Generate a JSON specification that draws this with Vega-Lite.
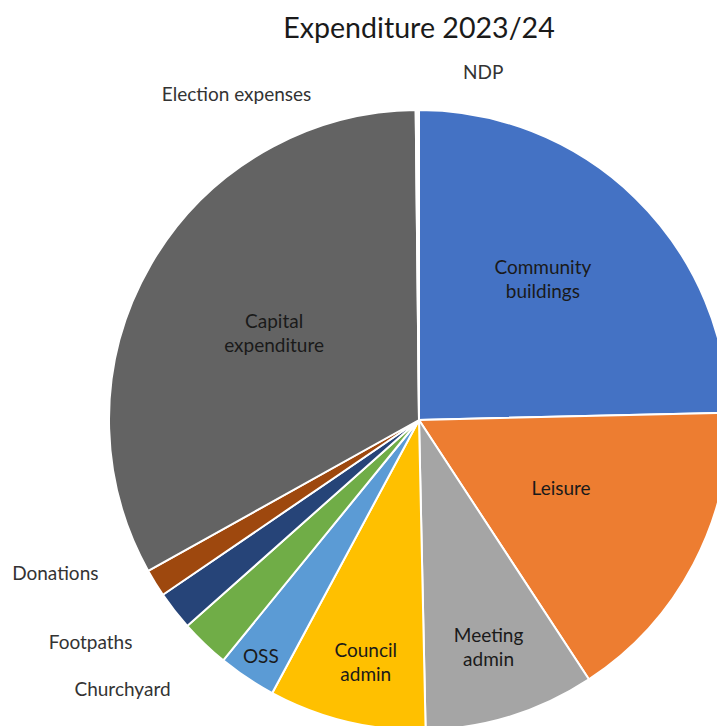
{
  "$schema": "https://vega.github.io/schema/vega-lite/v6.json",
  "autosize": "none",
  "width": 596,
  "height": 612,
  "padding": {"left": 121, "top": 114, "right": 0, "bottom": 0},
  "background": "white",
  "title": {"text": "Expenditure 2023/24", "font": "Lato", "fontSize": 28.6, "fontWeight": "normal", "color": "#1a1a1a", "anchor": "middle", "frame": "group", "offset": 20},
  "data": {"values": [
    {"category": "Community buildings", "label": "Community\nbuildings", "value": 24.62, "order": 1},
    {"category": "Leisure", "label": "Leisure", "value": 16.15, "order": 2},
    {"category": "Meeting admin", "label": "Meeting\nadmin", "value": 8.89, "order": 3},
    {"category": "Council admin", "label": "Council\nadmin", "value": 8.19, "order": 4},
    {"category": "OSS", "label": "OSS", "value": 3.03, "order": 5},
    {"category": "Churchyard", "label": "Churchyard", "value": 2.56, "order": 6},
    {"category": "Footpaths", "label": "Footpaths", "value": 2.03, "order": 7},
    {"category": "Donations", "label": "Donations", "value": 1.44, "order": 8},
    {"category": "Capital expenditure", "label": "Capital\nexpenditure", "value": 32.92, "order": 9},
    {"category": "Election expenses", "label": "Election expenses", "value": 0.09, "order": 10},
    {"category": "NDP", "label": "NDP", "value": 0.08, "order": 11}
  ]},
  "encoding": {
    "theta": {"field": "value", "type": "quantitative", "stack": true},
    "order": {"field": "order", "type": "quantitative"}
  },
  "layer": [
    {
      "mark": {"type": "arc", "outerRadius": 310, "stroke": "white", "strokeWidth": 2},
      "encoding": {
        "color": {"field": "category", "type": "nominal", "legend": null,
          "scale": {
            "domain": ["Community buildings", "Leisure", "Meeting admin", "Council admin", "OSS", "Churchyard", "Footpaths", "Donations", "Capital expenditure", "Election expenses", "NDP"],
            "range": ["#4472C4", "#ED7D31", "#A5A5A5", "#FFC000", "#5B9BD5", "#70AD47", "#264478", "#9E480E", "#636363", "#997300", "#255E91"]
          }}
      }
    },
    {
      "mark": {"type": "text", "radius": 156, "dx": 4, "dy": -4, "font": "Lato", "fontSize": 19, "lineHeight": 24, "lineBreak": "\n", "color": "#1a1a1a", "align": "center", "baseline": "middle"},
      "encoding": {
        "detail": {"field": "category"},
        "text": {"condition": {"test": "datum.category === 'Leisure'", "field": "label"}, "value": ""}
      }
    },
    {
      "mark": {"type": "text", "radius": 156, "dx": -10, "dy": -20, "font": "Lato", "fontSize": 19, "lineHeight": 24, "lineBreak": "\n", "color": "#1a1a1a", "align": "center", "baseline": "middle"},
      "encoding": {
        "detail": {"field": "category"},
        "text": {"condition": {"test": "datum.category === 'Capital expenditure'", "field": "label"}, "value": ""}
      }
    },
    {
      "mark": {"type": "text", "radius": 183, "dx": -4, "dy": -21, "font": "Lato", "fontSize": 19, "lineHeight": 24, "lineBreak": "\n", "color": "#1a1a1a", "align": "center", "baseline": "middle"},
      "encoding": {
        "detail": {"field": "category"},
        "text": {"condition": {"test": "datum.category === 'Community buildings'", "field": "label"}, "value": ""}
      }
    },
    {
      "mark": {"type": "text", "radius": 245, "dx": -3, "dy": -18, "font": "Lato", "fontSize": 19, "lineHeight": 24, "lineBreak": "\n", "color": "#1a1a1a", "align": "center", "baseline": "middle"},
      "encoding": {
        "detail": {"field": "category"},
        "text": {"condition": {"test": "datum.category === 'Meeting admin'", "field": "label"}, "value": ""}
      }
    },
    {
      "mark": {"type": "text", "radius": 245, "dx": 4, "dy": -7, "font": "Lato", "fontSize": 19, "lineHeight": 24, "lineBreak": "\n", "color": "#1a1a1a", "align": "center", "baseline": "middle"},
      "encoding": {
        "detail": {"field": "category"},
        "text": {"condition": {"test": "datum.category === 'Council admin'", "field": "label"}, "value": ""}
      }
    },
    {
      "mark": {"type": "text", "radius": 285, "font": "Lato", "fontSize": 19, "lineHeight": 24, "lineBreak": "\n", "color": "#1a1a1a", "align": "center", "baseline": "middle"},
      "encoding": {
        "detail": {"field": "category"},
        "text": {"condition": {"test": "datum.category === 'OSS'", "field": "label"}, "value": ""}
      }
    },
    {
      "mark": {"type": "text", "radius": 310, "dx": -100, "dy": -9, "font": "Lato", "fontSize": 19, "color": "#333333", "align": "center", "baseline": "middle"},
      "encoding": {
        "detail": {"field": "category"},
        "text": {"condition": {"test": "datum.category === 'Donations'", "field": "label"}, "value": ""}
      }
    },
    {
      "mark": {"type": "text", "radius": 310, "dx": -84, "dy": 32, "font": "Lato", "fontSize": 19, "color": "#333333", "align": "center", "baseline": "middle"},
      "encoding": {
        "detail": {"field": "category"},
        "text": {"condition": {"test": "datum.category === 'Footpaths'", "field": "label"}, "value": ""}
      }
    },
    {
      "mark": {"type": "text", "radius": 310, "dx": -82, "dy": 46, "font": "Lato", "fontSize": 19, "color": "#333333", "align": "center", "baseline": "middle"},
      "encoding": {
        "detail": {"field": "category"},
        "text": {"condition": {"test": "datum.category === 'Churchyard'", "field": "label"}, "value": ""}
      }
    },
    {
      "mark": {"type": "text", "radius": 310, "dx": -180, "dy": -15, "font": "Lato", "fontSize": 19, "color": "#333333", "align": "center", "baseline": "middle"},
      "encoding": {
        "detail": {"field": "category"},
        "text": {"condition": {"test": "datum.category === 'Election expenses'", "field": "label"}, "value": ""}
      }
    },
    {
      "mark": {"type": "text", "radius": 310, "dx": 65, "dy": -37, "font": "Lato", "fontSize": 19, "color": "#333333", "align": "center", "baseline": "middle"},
      "encoding": {
        "detail": {"field": "category"},
        "text": {"condition": {"test": "datum.category === 'NDP'", "field": "label"}, "value": ""}
      }
    }
  ],
  "config": {"view": {"stroke": null}}
}
